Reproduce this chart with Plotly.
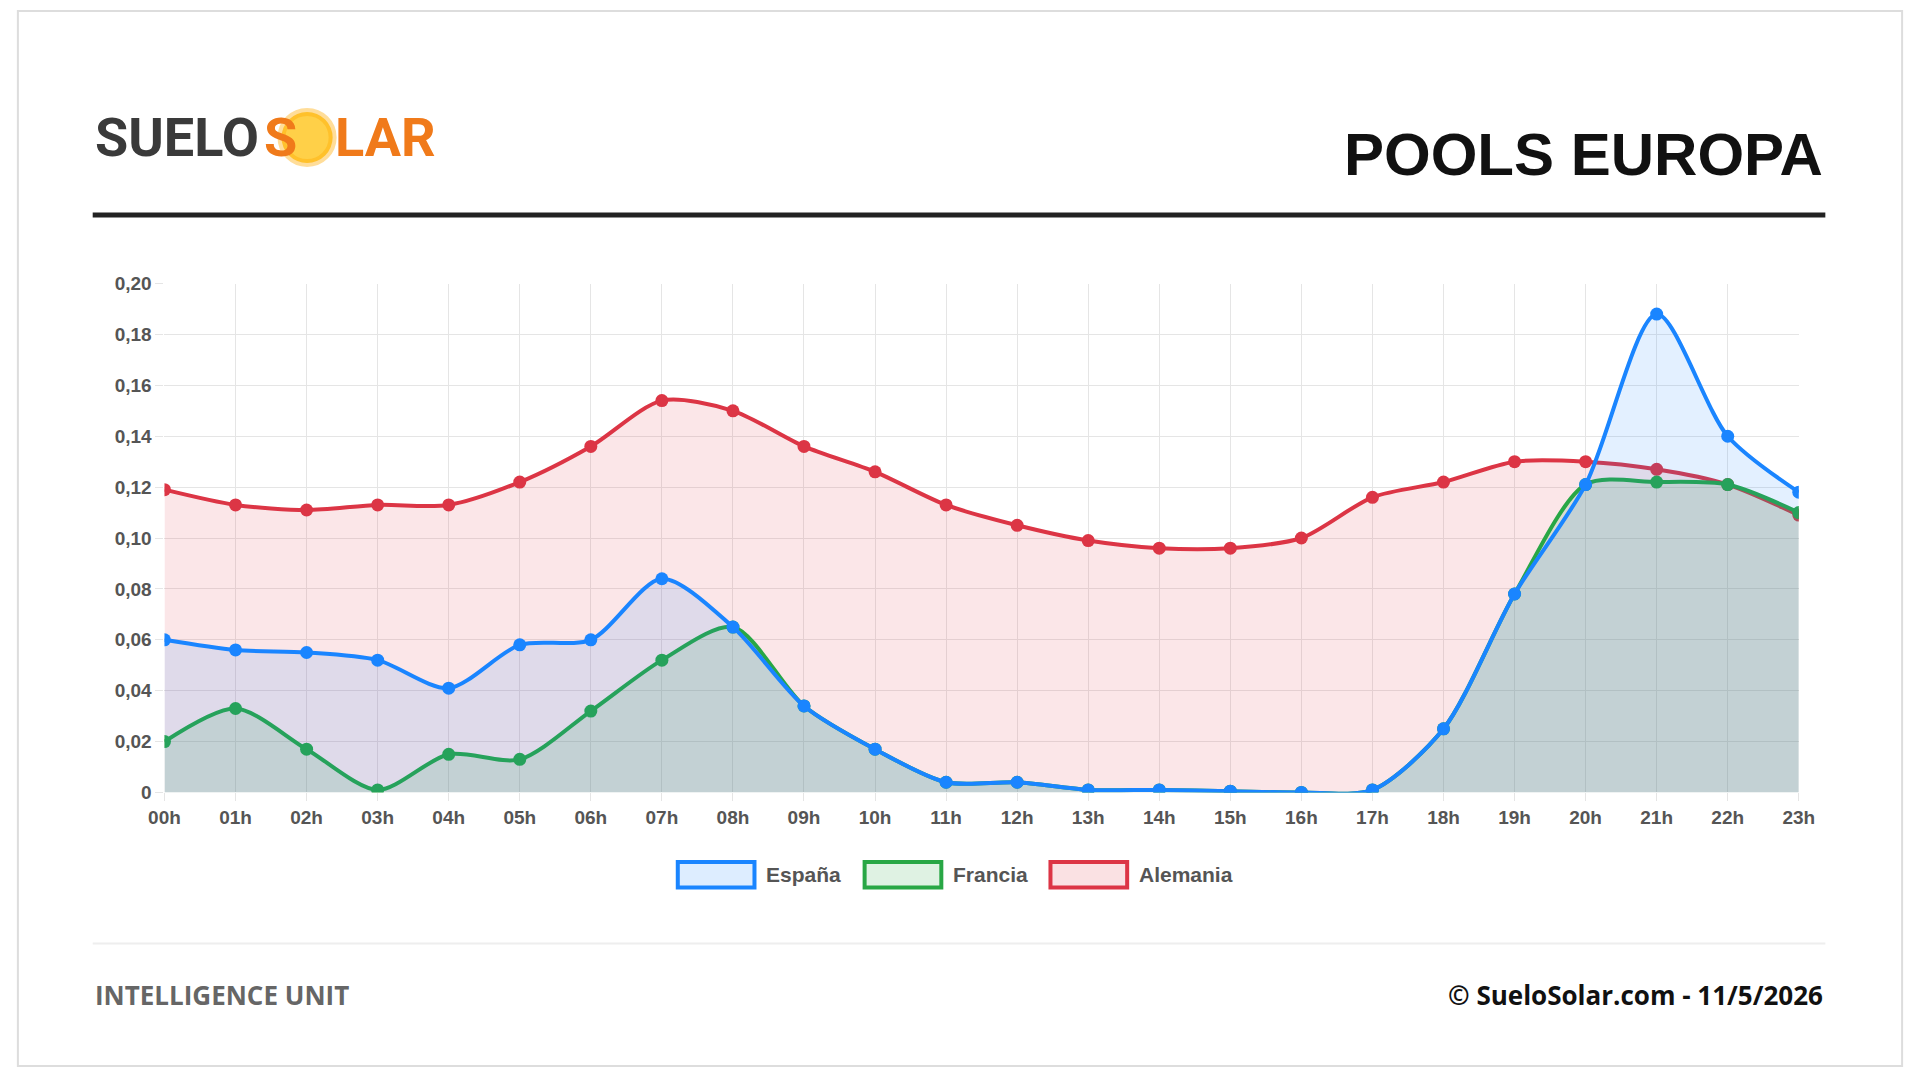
import plotly.graph_objects as go

hours = [f"{h:02d}h" for h in range(24)]
espana = [0.060,0.056,0.055,0.052,0.041,0.058,0.060,0.084,0.065,0.034,0.017,0.004,0.004,0.001,0.001,0.0005,0.0,0.001,0.025,0.078,0.121,0.188,0.140,0.118]
francia = [0.020,0.033,0.017,0.001,0.015,0.013,0.032,0.052,0.065,0.034,0.017,0.004,0.004,0.001,0.001,0.0005,0.0,0.001,0.025,0.078,0.121,0.122,0.121,0.110]
alemania = [0.119,0.113,0.111,0.113,0.113,0.122,0.136,0.154,0.150,0.136,0.126,0.113,0.105,0.099,0.096,0.096,0.100,0.116,0.122,0.130,0.130,0.127,0.121,0.109]
yticks = [0,0.02,0.04,0.06,0.08,0.10,0.12,0.14,0.16,0.18,0.20]
series = [("Alemania", alemania, "#dc3545", "rgba(220,53,69,0.12)"),
          ("Francia", francia, "#28a745", "rgba(40,167,69,0.15)"),
          ("España", espana, "#1a85ff", "rgba(26,133,255,0.12)")]

fig = go.Figure()
for name, vals, col, fillc in series:
    fig.add_trace(go.Scatter(x=list(range(24)), y=vals, name=name, mode="lines+markers",
        line=dict(color=col, width=4, shape="spline", smoothing=0.8), fill="tozeroy", fillcolor=fillc,
        marker=dict(size=13, color=col)))

W, H = 1920, 1078
def px(x): return x / W
def py(y): return 1 - y / H

tf = dict(size=19, color="#555", family="Liberation Sans, Arial", weight="bold")
fig.update_layout(
    autosize=True, margin=dict(l=0, r=0, t=0, b=0),
    paper_bgcolor="white", plot_bgcolor="white", showlegend=False,
    font=dict(family="Liberation Sans, Arial", color="#666"),
    xaxis=dict(domain=[px(151), px(1813)], range=[0, 23], tickvals=list(range(24)), ticktext=hours,
               showgrid=True, gridcolor="#e5e5e5", zeroline=False, tickfont=tf,
               ticks="outside", ticklen=8, tickcolor="#e5e5e5"),
    yaxis=dict(domain=[py(798), py(279)], range=[0, 0.2], tickvals=yticks,
               ticktext=["0"] + [f"{v:.2f}".replace(".", ",") for v in yticks[1:]],
               showgrid=True, gridcolor="#e5e5e5", zeroline=False, tickfont=tf,
               ticks="outside", ticklen=8, tickcolor="#e5e5e5"),
)
P = dict(xref="paper", yref="paper", showarrow=False, yanchor="middle")
shapes = [
    dict(type="rect", xref="paper", yref="paper", x0=0.001, x1=0.999, y0=0.001, y1=0.999, line=dict(color="#ddd", width=2)),
    dict(type="line", xref="paper", yref="paper", x0=px(78), x1=px(1840), y0=py(209), y1=py(209), line=dict(color="#222", width=5)),
    dict(type="line", xref="paper", yref="paper", x0=px(78), x1=px(1840), y0=py(952), y1=py(952), line=dict(color="#eee", width=2)),
    dict(type="circle", xref="paper", yref="paper", x0=px(270), x1=px(322), y0=py(156), y1=py(104),
         fillcolor="rgba(255,200,40,0.85)", line=dict(color="rgba(255,170,0,0.4)", width=8)),
]
LF = "Roboto"
anns = [
    dict(**P, x=px(78), y=py(130), xanchor="left", text="<b>SUELO</b>",
         font=dict(size=54, color="#3a3a3a", family=LF)),
    dict(**P, x=px(250), y=py(130), xanchor="left", text="<b>S</b>",
         font=dict(size=54, color="#f07a1a", family=LF)),
    dict(**P, x=px(322), y=py(130), xanchor="left", text="<b>LAR</b>",
         font=dict(size=54, color="#f07a1a", family=LF)),
    dict(**P, x=px(1840), y=py(147), xanchor="right", text="<b>POOLS EUROPA</b>",
         font=dict(size=60, color="#111", family="Liberation Sans, Arial", weight=900)),
    dict(**P, x=px(78), y=py(1005), xanchor="left", text="<b>INTELLIGENCE UNIT</b>",
         font=dict(size=26, color="#666", family="Open Sans")),
    dict(**P, x=px(1840), y=py(1005), xanchor="right", text="<b>© SueloSolar.com - 11/5/2026</b>",
         font=dict(size=26, color="#111", family="Open Sans")),
]
legend = [("España", "#1a85ff", "rgba(26,133,255,0.15)", 673), ("Francia", "#28a745", "rgba(40,167,69,0.15)", 863),
          ("Alemania", "#dc3545", "rgba(220,53,69,0.15)", 1052)]
for name, col, fc, x0 in legend:
    shapes.append(dict(type="rect", xref="paper", yref="paper", x0=px(x0), x1=px(x0 + 78), y0=py(895), y1=py(869),
                       fillcolor=fc, line=dict(color=col, width=4)))
    anns.append(dict(**P, x=px(x0 + 88), y=py(882), xanchor="left", text=name,
                     font=dict(size=21, color="#555", weight="bold")))
fig.update_layout(shapes=shapes, annotations=anns)
fig.write_html("out.html", default_width="100vw", default_height="100vh",
               config=dict(displayModeBar=False, responsive=True),
               post_script="document.body.style.margin='0';document.body.style.overflow='hidden';")
